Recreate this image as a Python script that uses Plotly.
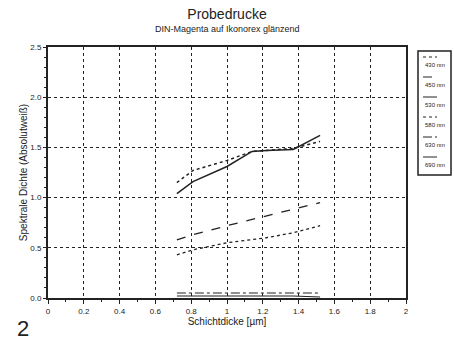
import plotly.graph_objects as go

# Data
thickness = [0.72, 0.81, 1.0, 1.14, 1.22, 1.37, 1.52]
series_names = ["430 nm", "450 nm", "530 nm", "580 nm", "630 nm", "690 nm"]
d430 = [0.43, 0.48, 0.55, 0.58, 0.60, 0.65, 0.72]
d450 = [0.58, 0.63, 0.72, 0.78, 0.82, 0.88, 0.95]
d530 = [1.04, 1.16, 1.31, 1.46, 1.47, 1.48, 1.62]
d580 = [1.15, 1.27, 1.37, 1.46, 1.47, 1.49, 1.56]
d630 = [0.05, 0.05, 0.05, 0.05, 0.05, 0.05, 0.05]
d690 = [0.02, 0.02, 0.02, 0.02, 0.02, 0.02, 0.01]
series_values = [d430, d450, d530, d580, d630, d690]
x_ticks = [0, 0.2, 0.4, 0.6, 0.8, 1, 1.2, 1.4, 1.6, 1.8, 2]
x_tick_labels = ["0", "0.2", "0.4", "0.6", "0.8", "1", "1.2", "1.4", "1.6", "1.8", "2"]
y_ticks = [0, 0.5, 1.0, 1.5, 2.0, 2.5]
y_tick_labels = ["0.0", "0.5", "1.0", "1.5", "2.0", "2.5"]

dashes = ["dot", "dash", "solid", "dot", "dashdot", "solid"]
widths = [1.3, 1.3, 1.5, 1.5, 1.1, 1.1]
ink = "#222222"
font = "Liberation Sans, Arial, sans-serif"

fig = go.Figure()
for name, vals, dsh, w in zip(series_names, series_values, dashes, widths):
    fig.add_trace(go.Scatter(x=thickness, y=vals, mode="lines", name=name,
                             line=dict(color=ink, dash=dsh, width=w),
                             showlegend=False))

# Manual legend box to the right of the plot
px_w, px_h = 358.0, 251.0
def px_to_paper_x(px):
    return (px - 48) / px_w
def px_to_paper_y(py):
    return (298 - py) / px_h

shapes = [dict(type="rect", xref="paper", yref="paper",
               x0=px_to_paper_x(418), x1=px_to_paper_x(451),
               y0=px_to_paper_y(175), y1=px_to_paper_y(51),
               line=dict(color=ink, width=1.5), fillcolor="white")]
annotations = []
for i, (name, dsh) in enumerate(zip(series_names, dashes)):
    ly = 57 + i * 20
    shapes.append(dict(type="line", xref="paper", yref="paper",
                       x0=px_to_paper_x(423), x1=px_to_paper_x(437),
                       y0=px_to_paper_y(ly), y1=px_to_paper_y(ly),
                       line=dict(color=ink, width=1, dash=dsh)))
    annotations.append(dict(xref="paper", yref="paper",
                            x=px_to_paper_x(435), y=px_to_paper_y(ly + 8),
                            text=name, showarrow=False,
                            font=dict(family=font, size=6, color=ink),
                            xanchor="center", yanchor="middle"))

annotations.append(dict(xref="paper", yref="paper", x=0.5, y=px_to_paper_y(29),
                        text="DIN-Magenta auf Ikonorex glänzend", showarrow=False,
                        font=dict(family=font, size=9, color=ink),
                        xanchor="center", yanchor="middle"))
annotations.append(dict(xref="paper", yref="paper", x=px_to_paper_x(23), y=px_to_paper_y(343),
                        text="2", showarrow=False,
                        font=dict(family=font, size=22, color=ink),
                        xanchor="center", yanchor="bottom"))

fig.update_layout(
    width=454, height=343,
    margin=dict(l=48, r=48, t=47, b=45),
    paper_bgcolor="white", plot_bgcolor="white",
    font=dict(family=font, color=ink, size=8),
    title=dict(text="Probedrucke", x=0.5, xanchor="center", y=1 - 14 / 343, yanchor="middle",
               font=dict(family=font, size=14, color=ink)),
    shapes=shapes, annotations=annotations,
    xaxis=dict(range=[0, 2], tickvals=x_ticks, ticktext=x_tick_labels,
               showgrid=True, gridcolor=ink, griddash="dot", gridwidth=1,
               showline=True, linecolor=ink, linewidth=2, mirror=True,
               ticks="outside", ticklen=4, tickcolor=ink,
               minor=dict(dtick=0.1, ticks="outside", ticklen=2, tickcolor=ink, showgrid=False),
               zeroline=False, tickfont=dict(size=8),
               title=dict(text="Schichtdicke [µm]", font=dict(size=10), standoff=2)),
    yaxis=dict(range=[0, 2.5], tickvals=y_ticks, ticktext=y_tick_labels,
               showgrid=True, gridcolor=ink, griddash="dot", gridwidth=1,
               showline=True, linecolor=ink, linewidth=2, mirror=True,
               ticks="outside", ticklen=3, tickcolor=ink,
               minor=dict(dtick=0.1, ticks="outside", ticklen=2, tickcolor=ink, showgrid=False),
               zeroline=False, tickfont=dict(size=8),
               title=dict(text="Spektrale Dichte (Absolutweiß)", font=dict(size=10), standoff=1)),
)

fig.write_html("out.html")
